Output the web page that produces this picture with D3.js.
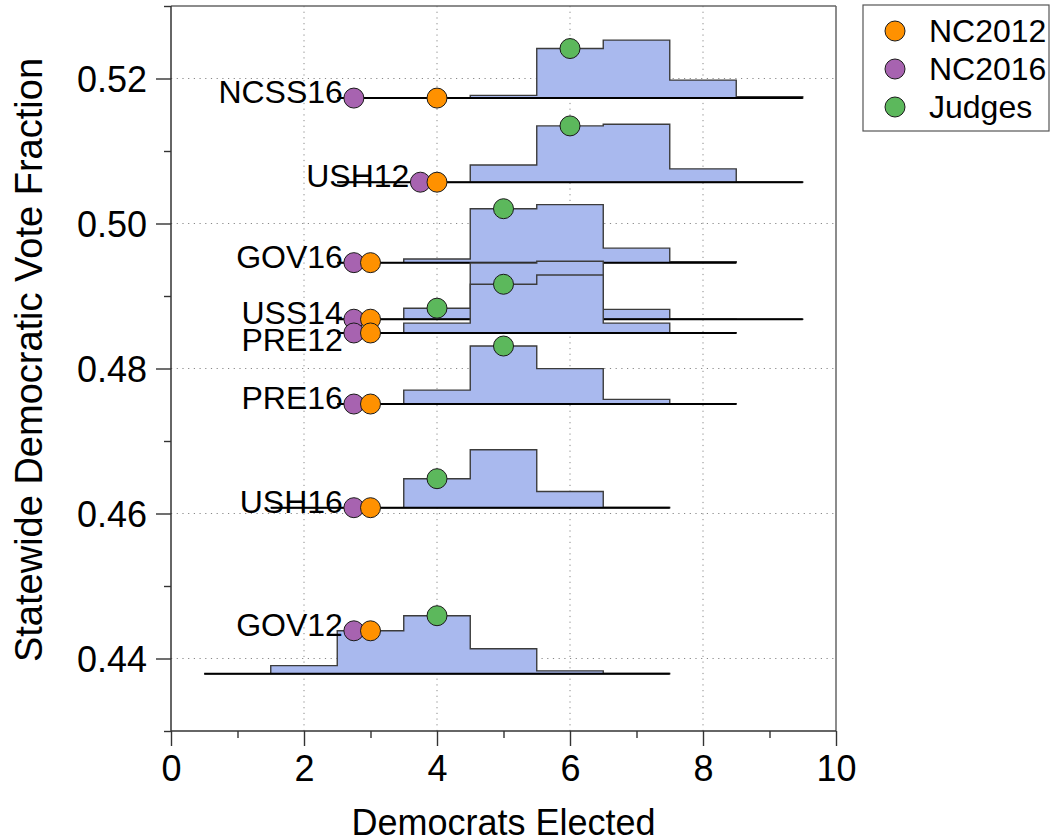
<!DOCTYPE html>
<html><head><meta charset="utf-8">
<script src="https://cdn.jsdelivr.net/npm/d3@7"></script>
<style>
body{margin:0;background:#fff}
text{font-family:"Liberation Sans",Arial,Helvetica,sans-serif;fill:#000}
</style>
</head><body>
<svg id="chart" width="1052" height="840"></svg>
<script>
// ---- data ----
const elections     = ["NCSS16","USH12","GOV16","USS14","PRE12","PRE16","USH16","GOV12"];
const statewideVote = [0.5173, 0.5057, 0.4946, 0.4868, 0.4849, 0.4751, 0.4608, 0.4379];
const firstSeatBin  = [3, 3, 3, 3, 3, 3, 2, 1];
// relative frequency of each seat count in the ensemble (largest bin = 1)
const ensembleFreq = [
  [0, 0, 0.047, 0.854, 1.0, 0.31, 0.023],
  [0, 0, 0.295, 0.97, 1.0, 0.23, 0.004],
  [0, 0.064, 0.93, 1.0, 0.25, 0.017],
  [0, 0.19, 0.97, 1.0, 0.17, 0.004, 0.002],
  [0, 0.17, 0.84, 1.0, 0.17, 0.004],
  [0, 0.24, 1.0, 0.61, 0.08, 0.004],
  [0, 0, 0.5, 1.0, 0.28, 0.004],
  [0, 0.14, 0.74, 1.0, 0.43, 0.05, 0.004]
];
const nc2012Seats = [4, 4, 3, 3, 3, 3, 3, 3];
const nc2016Seats = [3, 4, 3, 3, 3, 3, 3, 3];
const judgesSeats = [6, 6, 5, 4, 5, 5, 4, 4];
const xTicks = [0, 2, 4, 6, 8, 10];
const xMinorTicks = [1, 3, 5, 7, 9];
const yTicks = [0.44, 0.46, 0.48, 0.50, 0.52];
const yMinorTicks = [0.43, 0.45, 0.47, 0.49, 0.51, 0.53];
const legendLabels = ["NC2012", "NC2016", "Judges"];

// ---- styles ----
const HIST_SPAN = 0.008;        // vote-fraction height of the tallest bin
const NC2016_SHIFT = -0.25;     // horizontal display offset to avoid overlap
const colors = {NC2012:"#ff9100", NC2016:"#a763b0", Judges:"#5cb85c"};
const histFill = "#a9b9ee";
const R = 10;

const svg = d3.select("#chart");
const x = d3.scaleLinear().domain([0, 10]).range([171, 836]);
const y = d3.scaleLinear().domain([0.43, 0.53]).range([731, 6]);

// grid
const grid = svg.append("g");
grid.selectAll("line.v").data(xTicks.filter(d => d > 0 && d < 10)).join("line")
  .attr("x1", d => x(d)).attr("x2", d => x(d)).attr("y1", y(0.53)).attr("y2", y(0.43))
  .attr("stroke", "#888").attr("stroke-width", 1).attr("stroke-dasharray", "1.2,4.5");
grid.selectAll("line.h").data(yTicks).join("line")
  .attr("y1", d => y(d)).attr("y2", d => y(d)).attr("x1", x(0)).attr("x2", x(10))
  .attr("stroke", "#888").attr("stroke-width", 1).attr("stroke-dasharray", "1.2,4.5");

// frame top/right
svg.append("line").attr("x1", x(0)).attr("x2", x(10)).attr("y1", y(0.53)).attr("y2", y(0.53))
  .attr("stroke", "#666").attr("stroke-width", 1.5);
svg.append("line").attr("x1", x(10)).attr("x2", x(10)).attr("y1", y(0.53)).attr("y2", y(0.43))
  .attr("stroke", "#666").attr("stroke-width", 1.5);

// rows
const area = d3.area().x(d => x(d.x)).y0(d => y(d.base)).y1(d => y(d.base + d.h * HIST_SPAN));
const rows = svg.append("g");
elections.forEach((name, i) => {
  const base = statewideVote[i];
  const f = ensembleFreq[i];
  const b0 = firstSeatBin[i];
  const pts = [];
  f.forEach((h, j) => {
    const k = b0 + j;
    pts.push({x: k - 0.5, h, base}, {x: k + 0.5, h, base});
  });
  const top = k => {
    const j = k - b0;
    const h = (j >= 0 && j < f.length) ? f[j] : 0;
    return base + h * HIST_SPAN;
  };
  const g = rows.append("g");
  g.append("path").attr("d", area(pts))
    .attr("fill", histFill).attr("stroke", "#3c3c3c").attr("stroke-width", 1.4)
    .attr("stroke-linejoin", "miter");
  g.append("line")
    .attr("x1", x(b0 - 0.5)).attr("x2", x(b0 + f.length - 0.5))
    .attr("y1", y(base)).attr("y2", y(base))
    .attr("stroke", "#000").attr("stroke-width", 2);
  const p16 = {x: nc2016Seats[i] + NC2016_SHIFT, v: top(nc2016Seats[i])};
  const p12 = {x: nc2012Seats[i], v: top(nc2012Seats[i])};
  const pj  = {x: judgesSeats[i], v: top(judgesSeats[i])};
  const nudge = name === "PRE12" ? 13 : 0;
  g.append("text").attr("x", x(p16.x) - R - 1).attr("y", y(p16.v) + 5 + nudge)
    .attr("text-anchor", "end").attr("font-size", 32).text(name);
  [[p16, colors.NC2016], [p12, colors.NC2012], [pj, colors.Judges]].forEach(([p, c]) => {
    g.append("circle").attr("cx", x(p.x)).attr("cy", y(p.v)).attr("r", R)
      .attr("fill", c).attr("stroke", "#1a1a1a").attr("stroke-width", 1);
  });
});

// axes
function styleAxis(g) {
  g.select(".domain").remove();
  g.selectAll(".tick line").attr("stroke", "#333").attr("stroke-width", 1.4);
  g.selectAll("text").attr("font-size", 36).attr("fill", "#000")
    .style("font-family", '"Liberation Sans",Arial,sans-serif');
}
const yAx = svg.append("g").attr("transform", `translate(${x(0)},0)`)
  .call(d3.axisLeft(y).tickValues(yTicks).tickSize(15).tickPadding(9).tickFormat(d3.format(".2f")));
styleAxis(yAx);
yAx.selectAll("text").attr("dy", "0.36em");
const yMin = svg.append("g").attr("transform", `translate(${x(0)},0)`)
  .call(d3.axisLeft(y).tickValues(yMinorTicks).tickSize(7).tickFormat(""));
styleAxis(yMin);
const xAx = svg.append("g").attr("transform", `translate(0,${y(0.43)})`)
  .call(d3.axisBottom(x).tickValues(xTicks).tickSize(15).tickPadding(9).tickFormat(d3.format("d")));
styleAxis(xAx);
const xMin = svg.append("g").attr("transform", `translate(0,${y(0.43)})`)
  .call(d3.axisBottom(x).tickValues(xMinorTicks).tickSize(7).tickFormat(""));
styleAxis(xMin);
svg.append("line").attr("x1", x(0)).attr("x2", x(0)).attr("y1", y(0.53)).attr("y2", y(0.43))
  .attr("stroke", "#333").attr("stroke-width", 1.5);
svg.append("line").attr("x1", x(0)).attr("x2", x(10)).attr("y1", y(0.43)).attr("y2", y(0.43))
  .attr("stroke", "#333").attr("stroke-width", 1.5);

// axis titles
svg.append("text").attr("x", (x(0) + x(10)) / 2).attr("y", 835)
  .attr("text-anchor", "middle").attr("font-size", 36).text("Democrats Elected");
svg.append("text").attr("transform", `translate(42,360) rotate(-90)`)
  .attr("text-anchor", "middle").attr("font-size", 38).text("Statewide Democratic Vote Fraction");

// legend
const lg = svg.append("g");
lg.append("rect").attr("x", 863).attr("y", 5).attr("width", 186).attr("height", 126)
  .attr("fill", "#fff").attr("stroke", "#555").attr("stroke-width", 1.2);
legendLabels.forEach((lab, i) => {
  const cy = 31 + i * 38;
  lg.append("circle").attr("cx", 895).attr("cy", cy).attr("r", R)
    .attr("fill", colors[lab]).attr("stroke", "#1a1a1a").attr("stroke-width", 1);
  lg.append("text").attr("x", 929).attr("y", cy + 11).attr("font-size", 32).text(lab);
});
</script>
</body></html>
